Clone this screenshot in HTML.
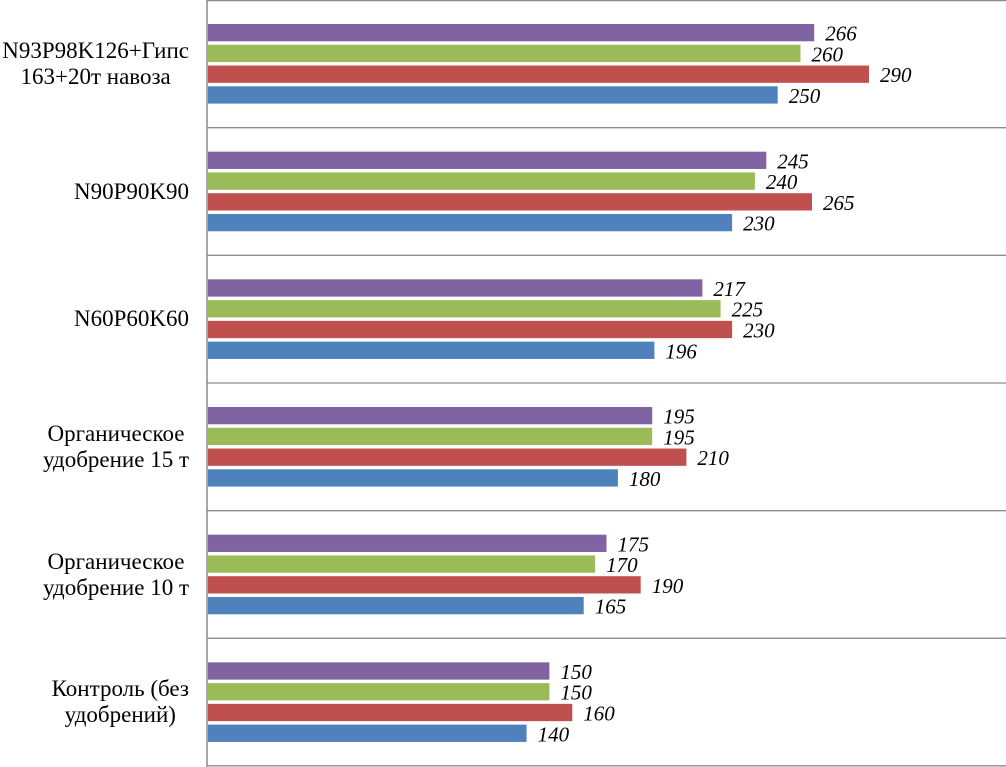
<!DOCTYPE html>
<html>
<head>
<meta charset="utf-8">
<style>
  html, body { margin:0; padding:0; background:#fff; }
  body { width:1006px; height:767px; position:relative; overflow:hidden; }
  .lbl { position:absolute; right:817px; font-family:"Liberation Serif", "Times New Roman", serif; font-size:23px; line-height:26px; color:#000; text-align:center; white-space:nowrap; }
  svg { position:absolute; left:0; top:0; }
  .v { font-family:"Liberation Serif", "Times New Roman", serif; font-style:italic; font-size:21px; fill:#000; }
</style>
</head>
<body>
<svg width="1006" height="767" viewBox="0 0 1006 767">
  <g stroke="#8c8c8c" stroke-width="1.3" fill="none">
    <line x1="207" y1="0.6" x2="1006" y2="0.6"/>
    <line x1="207" y1="127.7" x2="1006" y2="127.7"/>
    <line x1="207" y1="255.3" x2="1006" y2="255.3"/>
    <line x1="207" y1="383" x2="1006" y2="383"/>
    <line x1="207" y1="510.7" x2="1006" y2="510.7"/>
    <line x1="207" y1="638.3" x2="1006" y2="638.3"/>
    <line x1="207" y1="765.8" x2="1006" y2="765.8"/>
  </g>

  <!-- group 0 -->
  <g transform="translate(0,0)">
    <rect x="208" y="24" width="606.2" height="17.3" fill="#8064A2"/>
    <rect x="208" y="44.77" width="592.5" height="17.3" fill="#9BBB59"/>
    <rect x="208" y="65.53" width="661" height="17.3" fill="#C0504D"/>
    <rect x="208" y="86.3" width="569.7" height="17.3" fill="#4F81BD"/>
    <text class="v" x="825.2" y="40.65">266</text>
    <text class="v" x="811.5" y="61.42">260</text>
    <text class="v" x="880.0" y="82.18">290</text>
    <text class="v" x="788.7" y="102.95">250</text>
  </g>
  <!-- group 1 -->
  <g transform="translate(0,127.67)">
    <rect x="208" y="24" width="558.3" height="17.3" fill="#8064A2"/>
    <rect x="208" y="44.77" width="546.9" height="17.3" fill="#9BBB59"/>
    <rect x="208" y="65.53" width="604" height="17.3" fill="#C0504D"/>
    <rect x="208" y="86.3" width="524.1" height="17.3" fill="#4F81BD"/>
    <text class="v" x="777.3" y="40.65">245</text>
    <text class="v" x="765.9" y="61.42">240</text>
    <text class="v" x="823.0" y="82.18">265</text>
    <text class="v" x="743.1" y="102.95">230</text>
  </g>
  <!-- group 2 -->
  <g transform="translate(0,255.33)">
    <rect x="208" y="24" width="494.4" height="17.3" fill="#8064A2"/>
    <rect x="208" y="44.77" width="512.6" height="17.3" fill="#9BBB59"/>
    <rect x="208" y="65.53" width="524.1" height="17.3" fill="#C0504D"/>
    <rect x="208" y="86.3" width="446.4" height="17.3" fill="#4F81BD"/>
    <text class="v" x="713.4" y="40.65">217</text>
    <text class="v" x="731.6" y="61.42">225</text>
    <text class="v" x="743.1" y="82.18">230</text>
    <text class="v" x="665.4" y="102.95">196</text>
  </g>
  <!-- group 3 -->
  <g transform="translate(0,383)">
    <rect x="208" y="24" width="444.2" height="17.3" fill="#8064A2"/>
    <rect x="208" y="44.77" width="444.2" height="17.3" fill="#9BBB59"/>
    <rect x="208" y="65.53" width="478.4" height="17.3" fill="#C0504D"/>
    <rect x="208" y="86.3" width="409.9" height="17.3" fill="#4F81BD"/>
    <text class="v" x="663.2" y="40.65">195</text>
    <text class="v" x="663.2" y="61.42">195</text>
    <text class="v" x="697.4" y="82.18">210</text>
    <text class="v" x="628.9" y="102.95">180</text>
  </g>
  <!-- group 4 -->
  <g transform="translate(0,510.67)">
    <rect x="208" y="24" width="398.5" height="17.3" fill="#8064A2"/>
    <rect x="208" y="44.77" width="387.1" height="17.3" fill="#9BBB59"/>
    <rect x="208" y="65.53" width="432.7" height="17.3" fill="#C0504D"/>
    <rect x="208" y="86.3" width="375.7" height="17.3" fill="#4F81BD"/>
    <text class="v" x="617.5" y="40.65">175</text>
    <text class="v" x="606.1" y="61.42">170</text>
    <text class="v" x="651.7" y="82.18">190</text>
    <text class="v" x="594.7" y="102.95">165</text>
  </g>
  <!-- group 5 -->
  <g transform="translate(0,638.33)">
    <rect x="208" y="24" width="341.4" height="17.3" fill="#8064A2"/>
    <rect x="208" y="44.77" width="341.4" height="17.3" fill="#9BBB59"/>
    <rect x="208" y="65.53" width="364.3" height="17.3" fill="#C0504D"/>
    <rect x="208" y="86.3" width="318.6" height="17.3" fill="#4F81BD"/>
    <text class="v" x="560.4" y="40.65">150</text>
    <text class="v" x="560.4" y="61.42">150</text>
    <text class="v" x="583.3" y="82.18">160</text>
    <text class="v" x="537.6" y="102.95">140</text>
  </g>

  <line x1="207" y1="0" x2="207" y2="767" stroke="#8c8c8c" stroke-width="1.5"/>
</svg>

<div class="lbl" style="top:37.8px;">N93P98K126+Гипс<br>163+20т навоза</div>
<div class="lbl" style="top:178.5px;">N90P90K90</div>
<div class="lbl" style="top:306.2px;">N60P60K60</div>
<div class="lbl" style="top:420.8px;">Органическое<br>удобрение 15 т</div>
<div class="lbl" style="top:548.5px;">Органическое<br>удобрение 10 т</div>
<div class="lbl" style="top:676.2px;">Контроль (без<br>удобрений)</div>
</body>
</html>
